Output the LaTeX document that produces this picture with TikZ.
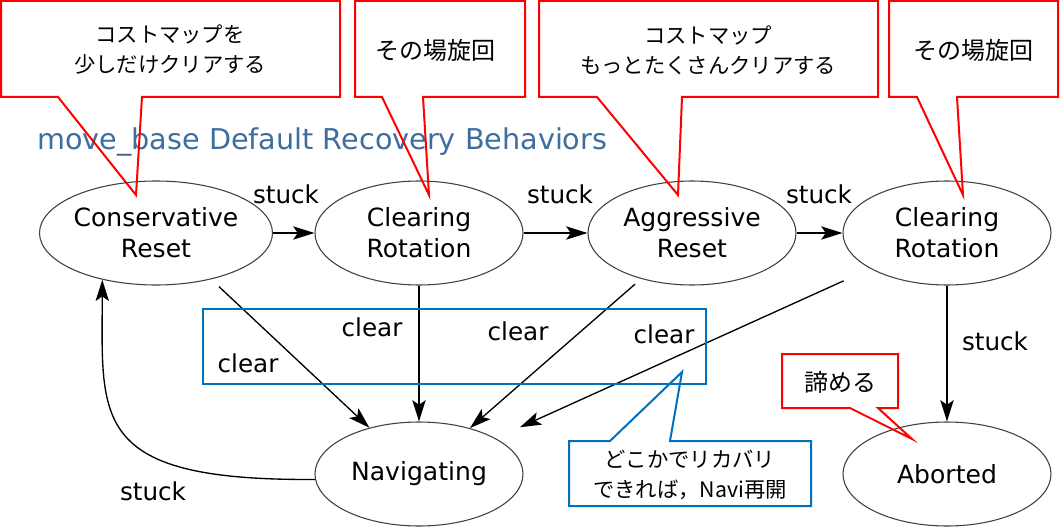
\documentclass[tikz,border=0pt]{standalone}
\usepackage{fontspec}
\setmainfont{DejaVu Sans}
\newfontfamily\jp{Noto Sans CJK JP}
\usetikzlibrary{arrows.meta,shapes.geometric}
\definecolor{callred}{RGB}{255,0,0}
\definecolor{callblue}{RGB}{0,112,192}
\definecolor{titleblue}{RGB}{62,110,160}
\begin{document}
\begin{tikzpicture}[x=0.75pt,y=-0.75pt,
  state/.style={draw=black!75, line width=0.8pt, ellipse, minimum width=156pt, minimum height=78pt, inner sep=0pt, align=center, font=\fontsize{18.8}{23.3}\selectfont},
  edge/.style={draw=black, line width=1pt, -{Stealth[length=16pt,width=10pt,inset=3.5pt]}},
  lbl/.style={anchor=base, font=\fontsize{18.5}{22}\selectfont, inner sep=0pt},
  callr/.style={draw=callred, line width=1.5pt, line join=miter},
  callb/.style={draw=callblue, line width=1.5pt, line join=miter},
  jtext/.style={font=\jp\fontsize{16}{22.5}\selectfont, align=center, inner sep=0pt},
  jbig/.style={font=\jp\fontsize{18}{22.5}\selectfont, align=center, inner sep=0pt},
]
\useasboundingbox (0,0) rectangle (1060,528);
\fill[white] (0,0) rectangle (1060,528);

% title
\node[anchor=base west, inner sep=0pt, text=titleblue, font=\fontsize{21.5}{26}\selectfont] (title) at (37,149) {move\_base Default Recovery Behaviors};

% states
\node[state] (cr)  at (156,233) {Conservative\\Reset};
\node[state] (cl1) at (419,233) {Clearing\\Rotation};
\node[state] (ar)  at (692,233) {Aggressive\\Reset};
\node[state] (cl2) at (947,233) {Clearing\\Rotation};
\node[state] (nav) at (419,474) {Navigating};
\node[state] (ab)  at (947,474) {Aborted};

% edges
\draw[edge] (cr.east) -- (cl1.west);
\draw[edge] (cl1.east) -- (ar.west);
\draw[edge] (ar.east) -- (cl2.west);
\draw[edge] (cl2.south) -- (ab.north);
\draw[edge] (cl1.south) -- (nav.north);
\draw[edge, shorten <=8pt] (cr.-40) -- (nav.137);
\draw[edge, shorten <=6pt] (ar.-138) -- (nav.42);
\draw[edge, shorten <=22pt, shorten >=20pt] (cl2.-155) -- (nav.25);
\draw[edge] (nav.183) .. controls (90,481) and (102,420) .. (cr.-139);

% labels
\node[lbl] (s1) at (286,203) {stuck};
\node[lbl] (s2) at (560,203) {stuck};
\node[lbl] (s3) at (819,203) {stuck};
\node[lbl] (s4) at (995,350) {stuck};
\node[lbl] (s5) at (153,500) {stuck};
\node[lbl] (c1) at (248,372) {clear};
\node[lbl] (c2) at (372,336) {clear};
\node[lbl] (c3) at (518,340) {clear};
\node[lbl] (c4) at (664,343) {clear};

% blue frame
\draw[draw=callblue, line width=1pt] (203,309) rectangle (706,384);

% callouts
\draw[callr] (1,1) -- (340,1) -- (340,97) -- (142,97) -- (136,195) -- (58,97) -- (1,97) -- cycle;
\draw[callr] (355,1) -- (525,1) -- (525,97) -- (423,97) -- (429,195) -- (382,97) -- (355,97) -- cycle;
\draw[callr] (539,1) -- (878,1) -- (878,97) -- (682,97) -- (678,195) -- (597,97) -- (539,97) -- cycle;
\draw[callr] (889,1) -- (1058,1) -- (1058,97) -- (957,97) -- (963,195) -- (917,97) -- (889,97) -- cycle;
\draw[callr] (782,354) -- (898,354) -- (898,408) -- (878,408) -- (912,439) -- (850,408) -- (782,408) -- cycle;
\draw[callb] (569,441) -- (610,441) -- (682,372) -- (670,441) -- (811,441) -- (811,506) -- (569,506) -- cycle;

\node[jtext] (t1) at (170,50) {コストマップを\\少しだけクリアする};
\node[jbig]  (t2) at (435,50) {その場旋回};
\node[jtext] (t3) at (708,50) {コストマップ\\もっとたくさんクリアする};
\node[jbig]  (t4) at (973,50) {その場旋回};
\node[jtext] (t5) at (690,475) {どこかでリカバリ\\できれば，Navi再開};
\node[jbig]  (t6) at (840,382) {諦める};
\end{tikzpicture}
\end{document}
